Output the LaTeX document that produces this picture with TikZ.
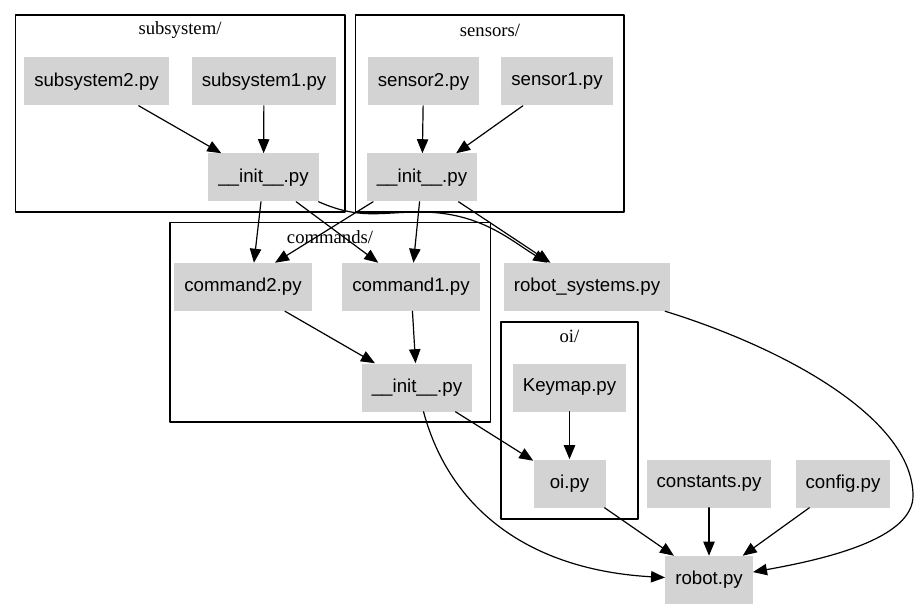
\documentclass[tikz,border=0pt]{standalone}
\usepackage{fontspec}
\setmainfont{Liberation Serif}
\newfontfamily\filefont{Liberation Sans}
\usetikzlibrary{arrows.meta}
\definecolor{filegray}{RGB}{211,211,211}

\begin{document}
\begin{tikzpicture}[x=0.75pt,y=-0.75pt, line join=round, line cap=round,
	>={Triangle[length=10.5pt,width=8.5pt]},
	file/.style={fill=filegray, font=\filefont\fontsize{14}{16}\selectfont, minimum width=54pt, minimum height=36pt, inner xsep=7.5pt},
	dep/.style={->, line width=0.9pt},
	pkg/.style={line width=0.8pt},
	pkgname/.style={font=\fontsize{14}{16}\selectfont}]
	\useasboundingbox (0,0) rectangle (919,609);
	% Gói (cluster)
	\draw[pkg] (15.5,15) rectangle (345,212);
	\draw[pkg] (355.5,15) rectangle (624,212);
	\draw[pkg] (170,222.5) rectangle (490.5,422);
	\draw[pkg] (501,322) rectangle (638,519);
	\node[pkgname] (lsub) at (180,30.5) {subsystem/};
	\node[pkgname] (lsens) at (490,30.5) {sensors/};
	\node[pkgname] (lcmd) at (330,237.5) {commands/};
	\node[pkgname] (loi) at (569.5,336.5) {oi/};
	% Tệp
	\node[file] (sub2) at (96.5,81.5) {subsystem2.py};
	\node[file] (sub1) at (264,81.5) {subsystem1.py};
	\node[file] (subinit) at (263.5,177.5) {\_\_init\_\_.py};
	\node[file] (sens2) at (423.5,81.5) {sensor2.py};
	\node[file] (sens1) at (557,81.5) {sensor1.py};
	\node[file] (sensinit) at (422,177.5) {\_\_init\_\_.py};
	\node[file] (cmd2) at (243,287) {command2.py};
	\node[file] (cmd1) at (411,287) {command1.py};
	\node[file] (rsys) at (587,287) {robot\_systems.py};
	\node[file] (cmdinit) at (417,387.5) {\_\_init\_\_.py};
	\node[file] (keymap) at (569.5,387.5) {Keymap.py};
	\node[file] (oi) at (569.5,483.5) {oi.py};
	\node[file] (const) at (709,483.5) {constants.py};
	\node[file] (config) at (843,483.5) {config.py};
	\node[file] (robot) at (709,580) {robot.py};
	% Phụ thuộc
	\draw[dep] (sub2)--(subinit);
	\draw[dep] (sub1)--(subinit);
	\draw[dep] (sens2)--(sensinit);
	\draw[dep] (sens1)--(sensinit);
	\draw[dep] ([xshift=-1.9pt]subinit.south)--([xshift=8.2pt]cmd2.north);
	\draw[dep] (subinit)--(cmd1);
	\draw[dep] (subinit) .. controls (360,220) and (380,212) .. (420,212) .. controls (480,212) and (510,240) .. (rsys);
	\draw[dep] ([xshift=-36.7pt]sensinit.south)--([xshift=24pt]cmd2.north);
	\draw[dep] (sensinit)--(cmd1);
	\draw[dep] (sensinit)--(rsys);
	\draw[dep] (cmd2)--(cmdinit);
	\draw[dep] (cmd1)--(cmdinit);
	\draw[dep] (cmdinit)--(oi);
	\draw[dep] (cmdinit) .. controls (450,510) and (530,570) .. (robot);
	\draw[dep] (keymap)--(oi);
	\draw[dep] (oi)--(robot);
	\draw[dep] (const)--(robot);
	\draw[dep] (config)--(robot);
	\draw[dep] (rsys) .. controls (790,350) and (912,420) .. (913,495) .. controls (914,540) and (820,560) .. (robot);
\end{tikzpicture}
\end{document}
